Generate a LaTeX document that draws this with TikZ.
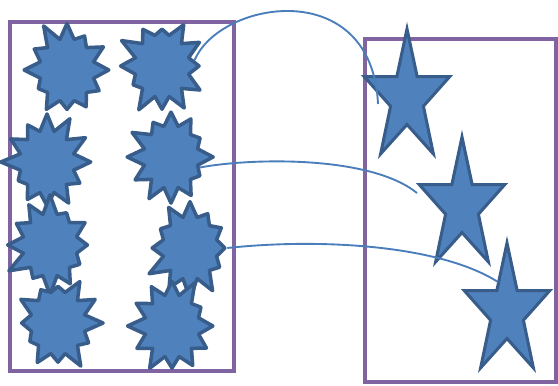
\documentclass[tikz,border=0pt]{standalone}
\usepackage{xcolor}
\usepackage{tikz}
\usetikzlibrary{shapes.geometric,shapes.symbols}

\definecolor{framepurple}{HTML}{8064A2}
\definecolor{shapefill}{HTML}{4F81BD}
\definecolor{shapeline}{HTML}{385D8A}
\definecolor{linkblue}{HTML}{4A7EBB}

\begin{document}
\begin{tikzpicture}[
    x=0.03cm, y=-0.03cm,
    frame/.style={
        draw=framepurple,
        line width=3pt,
        inner sep=0pt
    },
    burst/.style={
        starburst,
        starburst points=12,
        starburst point height=0.6cm,
        fill=shapefill,
        draw=shapeline,
        line width=3pt,
        line join=round,
        minimum width=2.85cm,
        minimum height=3.1cm,
        inner sep=0pt
    },
    fivestar/.style={
        star,
        star points=5,
        star point ratio=2.6,
        fill=shapefill,
        draw=shapeline,
        line width=2.6pt,
        minimum size=4.14cm,
        inner sep=0pt,
        xscale=0.65
    },
    link/.style={draw=linkblue, line width=1.6pt}
]
\useasboundingbox (0,0) rectangle (558,385);

\node[frame, minimum width=6.72cm, minimum height=10.47cm] (lbox) at (122,196.5) {};
\node[frame, minimum width=5.73cm, minimum height=10.29cm] (rbox) at (460.5,210.5) {};

\node[burst, random starburst=11] (b1) at (67,70) {};
\node[burst, random starburst=23] (b2) at (162,66) {};
\node[burst, random starburst=37] (b3) at (47,162) {};
\node[burst, random starburst=41] (b4) at (171,157) {};
\node[burst, random starburst=53] (b5) at (50,245) {};
\node[burst, random starburst=67] (b6) at (190,248) {};
\node[burst, random starburst=79] (b7) at (58,323) {};
\node[burst, random starburst=97] (b8) at (172,326) {};

\node[fivestar] (sa) at (407,98) {};
\node[fivestar] (sb) at (462,206) {};
\node[fivestar] (sc) at (507,312) {};

\coordinate (ea) at (378,104);
\coordinate (eb) at (417,193);
\coordinate (ec) at (498,282);

\draw[link] (b2.10) .. controls (220,0) and (372,-25) .. (ea);
\draw[link] (b4.-20) .. controls (250,158) and (370,155) .. (eb);
\draw[link] (b6.east) .. controls (320,238) and (440,245) .. (ec);
\end{tikzpicture}
\end{document}
